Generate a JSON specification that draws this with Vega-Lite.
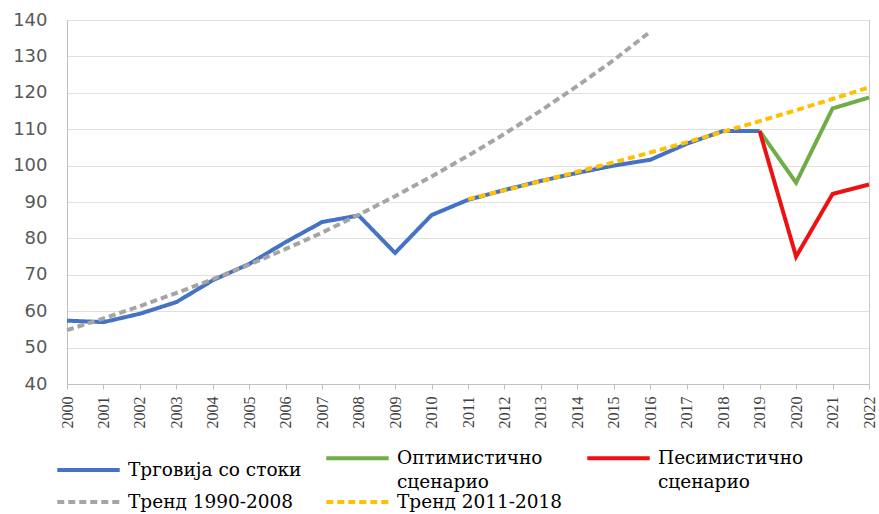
{
  "$schema": "https://vega.github.io/schema/vega-lite/v6.json",
  "width": 802,
  "height": 364,
  "autosize": {"type": "none"},
  "padding": {"left": 67, "top": 20, "right": 10, "bottom": 130},
  "background": "white",
  "config": {
    "view": {"stroke": "#c8c8c8", "strokeWidth": 1},
    "axis": {"gridColor": "#e0e0e0", "domainColor": "#c0c0c0", "tickColor": "#c0c0c0"}
  },
  "data": {
    "values": [
      {"year": 2000, "series": "Трговија со стоки", "value": 57.4},
      {"year": 2001, "series": "Трговија со стоки", "value": 57.0},
      {"year": 2002, "series": "Трговија со стоки", "value": 59.3},
      {"year": 2003, "series": "Трговија со стоки", "value": 62.5},
      {"year": 2004, "series": "Трговија со стоки", "value": 68.5},
      {"year": 2005, "series": "Трговија со стоки", "value": 73.0},
      {"year": 2006, "series": "Трговија со стоки", "value": 79.0},
      {"year": 2007, "series": "Трговија со стоки", "value": 84.5},
      {"year": 2008, "series": "Трговија со стоки", "value": 86.3},
      {"year": 2009, "series": "Трговија со стоки", "value": 76.0},
      {"year": 2010, "series": "Трговија со стоки", "value": 86.4},
      {"year": 2011, "series": "Трговија со стоки", "value": 90.6},
      {"year": 2012, "series": "Трговија со стоки", "value": 93.3},
      {"year": 2013, "series": "Трговија со стоки", "value": 95.8},
      {"year": 2014, "series": "Трговија со стоки", "value": 98.0},
      {"year": 2015, "series": "Трговија со стоки", "value": 100.0},
      {"year": 2016, "series": "Трговија со стоки", "value": 101.6},
      {"year": 2017, "series": "Трговија со стоки", "value": 106.0},
      {"year": 2018, "series": "Трговија со стоки", "value": 109.5},
      {"year": 2019, "series": "Трговија со стоки", "value": 109.5},
      {"year": 2019, "series": "Оптимистично сценарио", "value": 109.5},
      {"year": 2020, "series": "Оптимистично сценарио", "value": 95.3},
      {"year": 2021, "series": "Оптимистично сценарио", "value": 115.7},
      {"year": 2022, "series": "Оптимистично сценарио", "value": 118.7},
      {"year": 2019, "series": "Песимистично сценарио", "value": 109.5},
      {"year": 2020, "series": "Песимистично сценарио", "value": 75.0},
      {"year": 2021, "series": "Песимистично сценарио", "value": 92.2},
      {"year": 2022, "series": "Песимистично сценарио", "value": 94.8},
      {"year": 2000, "series": "Тренд 1990-2008", "value": 54.8},
      {"year": 2001, "series": "Тренд 1990-2008", "value": 58.0},
      {"year": 2002, "series": "Тренд 1990-2008", "value": 61.4},
      {"year": 2003, "series": "Тренд 1990-2008", "value": 65.0},
      {"year": 2004, "series": "Тренд 1990-2008", "value": 68.8},
      {"year": 2005, "series": "Тренд 1990-2008", "value": 72.8},
      {"year": 2006, "series": "Тренд 1990-2008", "value": 77.1},
      {"year": 2007, "series": "Тренд 1990-2008", "value": 81.6},
      {"year": 2008, "series": "Тренд 1990-2008", "value": 86.5},
      {"year": 2009, "series": "Тренд 1990-2008", "value": 91.6},
      {"year": 2010, "series": "Тренд 1990-2008", "value": 97.0},
      {"year": 2011, "series": "Тренд 1990-2008", "value": 102.7},
      {"year": 2012, "series": "Тренд 1990-2008", "value": 108.7},
      {"year": 2013, "series": "Тренд 1990-2008", "value": 115.1},
      {"year": 2014, "series": "Тренд 1990-2008", "value": 121.9},
      {"year": 2015, "series": "Тренд 1990-2008", "value": 129.0},
      {"year": 2016, "series": "Тренд 1990-2008", "value": 136.8},
      {"year": 2011, "series": "Тренд 2011-2018", "value": 90.8},
      {"year": 2012, "series": "Тренд 2011-2018", "value": 93.2},
      {"year": 2013, "series": "Тренд 2011-2018", "value": 95.7},
      {"year": 2014, "series": "Тренд 2011-2018", "value": 98.3},
      {"year": 2015, "series": "Тренд 2011-2018", "value": 100.9},
      {"year": 2016, "series": "Тренд 2011-2018", "value": 103.6},
      {"year": 2017, "series": "Тренд 2011-2018", "value": 106.4},
      {"year": 2018, "series": "Тренд 2011-2018", "value": 109.3},
      {"year": 2019, "series": "Тренд 2011-2018", "value": 112.2},
      {"year": 2020, "series": "Тренд 2011-2018", "value": 115.2},
      {"year": 2021, "series": "Тренд 2011-2018", "value": 118.3},
      {"year": 2022, "series": "Тренд 2011-2018", "value": 121.5}
    ]
  },
  "encoding": {
    "x": {
      "field": "year", "type": "quantitative",
      "scale": {"domain": [2000, 2022], "nice": false, "zero": false},
      "axis": {
        "title": null, "grid": false, "format": "d",
        "values": [2000,2001,2002,2003,2004,2005,2006,2007,2008,2009,2010,2011,2012,2013,2014,2015,2016,2017,2018,2019,2020,2021,2022],
        "labelAngle": -90, "labelAlign": "right", "labelBaseline": "middle",
        "labelFont": "Liberation Serif", "labelFontSize": 16, "labelColor": "#404040",
        "tickSize": 5, "labelPadding": 7, "labelOverlap": false, "labelFlush": false
      }
    },
    "y": {
      "field": "value", "type": "quantitative",
      "scale": {"domain": [40, 140], "nice": false, "zero": false},
      "axis": {
        "title": null, "values": [40,50,60,70,80,90,100,110,120,130,140],
        "ticks": false, "labelPadding": 20,
        "labelFont": "DejaVu Sans", "labelFontSize": 18, "labelColor": "#595959"
      }
    },
    "color": {
      "field": "series", "type": "nominal",
      "scale": {
        "domain": ["Трговија со стоки", "Оптимистично сценарио", "Песимистично сценарио", "Тренд 1990-2008", "Тренд 2011-2018"],
        "range": ["#4472C4", "#70AD47", "#EE1111", "#A5A5A5", "#FFC000"]
      },
      "legend": {
        "title": null, "orient": "none", "direction": "horizontal", "columns": 3,
        "legendX": -12, "legendY": 428, "padding": 0,
        "symbolType": "stroke", "symbolSize": 3900, "clipHeight": 20,
        "labelFont": "DejaVu Serif", "labelFontSize": 18.5, "labelColor": "#000000",
        "labelOffset": 6, "labelLimit": 400, "columnPadding": 22, "rowPadding": 0,
        "labelExpr": "indexof(datum.label, 'сценарио') > 0 ? split(datum.label, ' ') : datum.label",
        "encode": {"labels": {"update": {"lineHeight": {"value": 24}}}}
      }
    },
    "strokeDash": {
      "field": "series", "type": "nominal",
      "scale": {
        "domain": ["Трговија со стоки", "Оптимистично сценарио", "Песимистично сценарио", "Тренд 1990-2008", "Тренд 2011-2018"],
        "range": [[1, 0], [1, 0], [1, 0], [7, 4], [7, 4]]
      },
      "legend": null
    },
    "strokeWidth": {
      "field": "series", "type": "nominal",
      "scale": {
        "domain": ["Трговија со стоки", "Оптимистично сценарио", "Песимистично сценарио", "Тренд 1990-2008", "Тренд 2011-2018"],
        "range": [4, 4, 4, 2.5, 2.5]
      },
      "legend": null
    }
  },
  "layer": [
    {
      "transform": [{"filter": "indexof(datum.series, 'Тренд') < 0"}],
      "mark": {"type": "line", "strokeJoin": "miter", "clip": false}
    },
    {
      "transform": [{"filter": "indexof(datum.series, 'Тренд') >= 0"}],
      "mark": {"type": "line"}
    }
  ]
}
